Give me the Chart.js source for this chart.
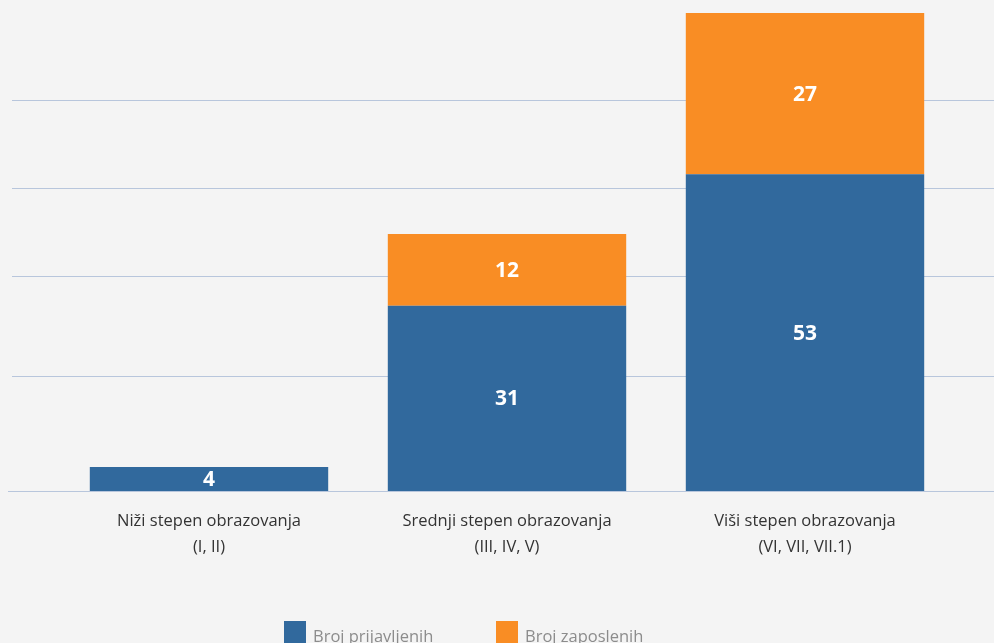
<!DOCTYPE html>
<html>
<head>
<meta charset="utf-8">
<script src="https://cdn.jsdelivr.net/npm/chart.js@4.4.1/dist/chart.umd.min.js"></script>
<style>
  html, body { margin: 0; padding: 0; background: #f4f4f4; }
  .wrap { position: relative; width: 994px; height: 643px; overflow: hidden; }
  .legend { font-family: 'Open Sans', sans-serif; font-size: 16.5px; color: #8c8c8c; }
  .legend .item { position: absolute; top: 621px; display: flex; align-items: flex-start; white-space: nowrap; }
  .legend .box { width: 22px; height: 22px; margin-right: 7px; }
  .legend .label { line-height: 22px; margin-top: 4px; }
</style>
</head>
<body>
<div class="wrap">
  <canvas id="eduChart" width="994" height="643"></canvas>
  <div class="legend" id="legend"></div>
</div>
<script>
const categories = [
  ['Niži stepen obrazovanja', '(I, II)'],
  ['Srednji stepen obrazovanja', '(III, IV, V)'],
  ['Viši stepen obrazovanja', '(VI, VII, VII.1)']
];
const prijavljeni = [4, 31, 53];
const zaposleni = [0, 12, 27];
const seriesNames = ['Broj prijavljenih', 'Broj zaposlenih'];
const gridValues = [0, 19.2, 36, 50.7, 65.5];

const BLUE = '#31699d';
const ORANGE = '#f98d24';
const GRID = '#b8c6dc';

// horizontal guide lines, stretched past the plot area to the canvas edges
const guideLines = {
  id: 'guideLines',
  beforeDatasetsDraw(chart) {
    const { ctx, scales: { y } } = chart;
    ctx.save();
    ctx.strokeStyle = GRID;
    ctx.lineWidth = 1;
    gridValues.forEach(v => {
      const py = Math.round(y.getPixelForValue(v)) + 0.5;
      ctx.beginPath();
      ctx.moveTo(v === 0 ? 8 : 12, py);
      ctx.lineTo(chart.width, py);
      ctx.stroke();
    });
    ctx.restore();
  }
};

// value printed in the middle of each segment
const segmentLabels = {
  id: 'segmentLabels',
  afterDatasetsDraw(chart) {
    const { ctx } = chart;
    ctx.save();
    ctx.fillStyle = '#ffffff';
    ctx.font = "bold 21px 'Open Sans', sans-serif";
    ctx.textAlign = 'center';
    ctx.textBaseline = 'middle';
    chart.data.datasets.forEach((ds, i) => {
      chart.getDatasetMeta(i).data.forEach((bar, j) => {
        const v = ds.data[j];
        if (!v) return;
        ctx.fillText(v, bar.x, (bar.y + bar.base) / 2 + 1);
      });
    });
    ctx.restore();
  }
};

new Chart(document.getElementById('eduChart'), {
  type: 'bar',
  data: {
    labels: categories,
    datasets: [
      { label: seriesNames[0], data: prijavljeni, backgroundColor: BLUE },
      { label: seriesNames[1], data: zaposleni, backgroundColor: ORANGE }
    ]
  },
  options: {
    responsive: false,
    animation: false,
    layout: { padding: { top: 13, left: 60, right: 40, bottom: 0 } },
    barPercentage: 0.8,
    categoryPercentage: 1,
    plugins: {
      legend: { display: false },
      tooltip: { enabled: false }
    },
    scales: {
      x: {
        stacked: true,
        grid: { display: false, drawTicks: false },
        border: { display: false },
        ticks: {
          color: '#333333',
          padding: 17,
          font: { family: "'Open Sans', sans-serif", size: 16.5, lineHeight: 1.6 }
        },
        afterFit(scale) { scale.height = 152; }
      },
      y: {
        stacked: true,
        display: false,
        min: 0,
        max: 80
      }
    }
  },
  plugins: [guideLines, segmentLabels]
});

const legendEl = document.getElementById('legend');
const legendLeft = [284, 496];
[BLUE, ORANGE].forEach((c, i) => {
  const item = document.createElement('div');
  item.className = 'item';
  item.style.left = legendLeft[i] + 'px';
  item.innerHTML = `<div class="box" style="background:${c}"></div><div class="label">${seriesNames[i]}</div>`;
  legendEl.appendChild(item);
});
</script>
</body>
</html>
